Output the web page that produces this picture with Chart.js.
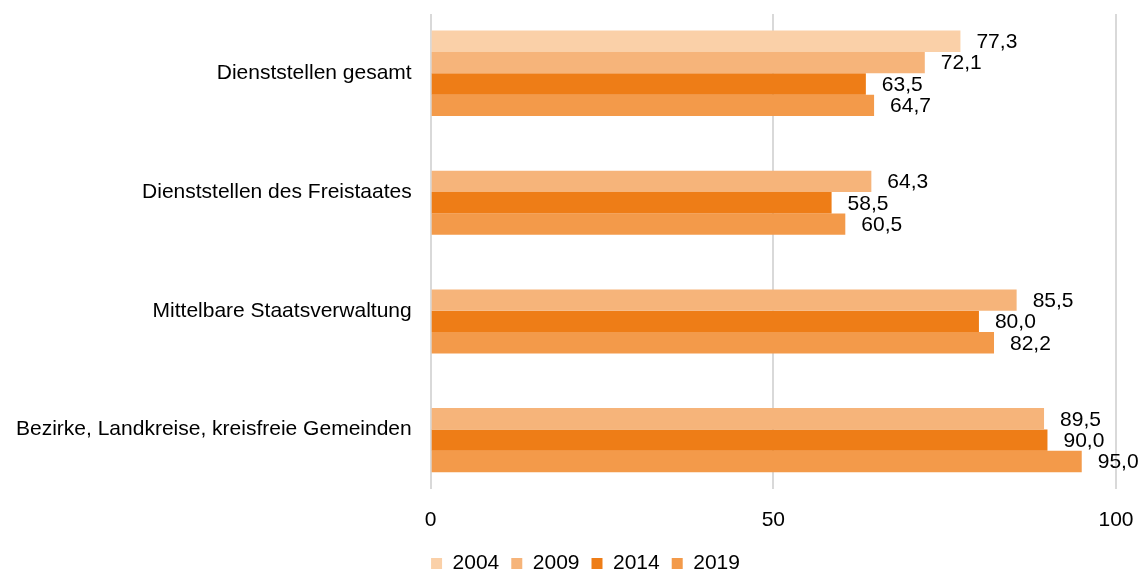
<!DOCTYPE html>
<html>
<head>
<meta charset="utf-8">
<script src="https://cdn.jsdelivr.net/npm/chart.js@4"></script>
<style>
  body { margin: 0; background: #fff; }
  #wrap { width: 1143px; height: 572px; }
</style>
</head>
<body>
<div id="wrap"><canvas id="quoteChart"></canvas></div>
<script>
const categories = [
  'Dienststellen gesamt',
  'Dienststellen des Freistaates',
  'Mittelbare Staatsverwaltung',
  'Bezirke, Landkreise, kreisfreie Gemeinden'
];
const years = ['2004', '2009', '2014', '2019'];
const values2004 = [77.3, null, null, null];
const values2009 = [72.1, 64.3, 85.5, 89.5];
const values2014 = [63.5, 58.5, 80.0, 90.0];
const values2019 = [64.7, 60.5, 82.2, 95.0];
const xTicks = [0, 50, 100];

const colors = ['#FAD0A8', '#F6B47A', '#EE7D17', '#F39A4A'];
const font = { family: 'Liberation Sans, Arial, sans-serif', size: 21 };

// Werte rechts neben die Balken schreiben
const valueLabels = {
  id: 'valueLabels',
  afterDatasetsDraw(chart) {
    const ctx = chart.ctx;
    ctx.save();
    ctx.font = font.size + 'px ' + font.family;
    ctx.fillStyle = '#000';
    ctx.textBaseline = 'middle';
    ctx.textAlign = 'left';
    chart.data.datasets.forEach((ds, i) => {
      chart.getDatasetMeta(i).data.forEach((bar, j) => {
        const v = ds.data[j];
        if (v === null || v === undefined) return;
        ctx.fillText(v.toFixed(1).replace('.', ','), bar.x + 16, bar.y + 1);
      });
    });
    ctx.restore();
  }
};

// Legende etwas verschieben wie im Original
const legendShift = {
  id: 'legendShift',
  afterLayout(chart) {
    const lg = chart.legend;
    const dx = 29, dy = -11;
    lg.left += dx; lg.right += dx;
    lg.top += dy; lg.bottom += dy;
  }
};

const noAutoPad = (axis) => {
  axis.paddingTop = 0; axis.paddingBottom = 0;
  axis.paddingLeft = 0; axis.paddingRight = 0;
};

const ctx = document.getElementById('quoteChart').getContext('2d');
const quoteChart = new Chart(ctx, {
  type: 'bar',
  data: {
    labels: categories,
    datasets: [
      { label: years[0], data: values2004, backgroundColor: colors[0] },
      { label: years[1], data: values2009, backgroundColor: colors[1] },
      { label: years[2], data: values2014, backgroundColor: colors[2] },
      { label: years[3], data: values2019, backgroundColor: colors[3] }
    ]
  },
  options: {
    indexAxis: 'y',
    responsive: true,
    maintainAspectRatio: false,
    animation: false,
    datasets: {
      bar: { barPercentage: 1, categoryPercentage: 0.72 }
    },
    layout: { padding: { top: 14, right: 27, left: -3, bottom: -23 } },
    scales: {
      x: {
        min: 0,
        max: 100,
        afterBuildTicks(axis) { axis.ticks = xTicks.map(v => ({ value: v })); },
        afterFit: noAutoPad,
        grid: { color: '#D9D9D9', lineWidth: 2, drawTicks: false },
        border: { display: false },
        ticks: { color: '#000', font: font, padding: 19 }
      },
      y: {
        afterFit: noAutoPad,
        grid: { display: false, drawTicks: false },
        border: { display: false },
        ticks: { color: '#000', font: font, padding: 19 }
      }
    },
    plugins: {
      legend: {
        position: 'bottom',
        labels: {
          color: '#000',
          font: font,
          boxWidth: 11,
          boxHeight: 11,
          padding: 12
        }
      },
      tooltip: { enabled: false }
    }
  },
  plugins: [valueLabels, legendShift]
});
</script>
</body>
</html>
